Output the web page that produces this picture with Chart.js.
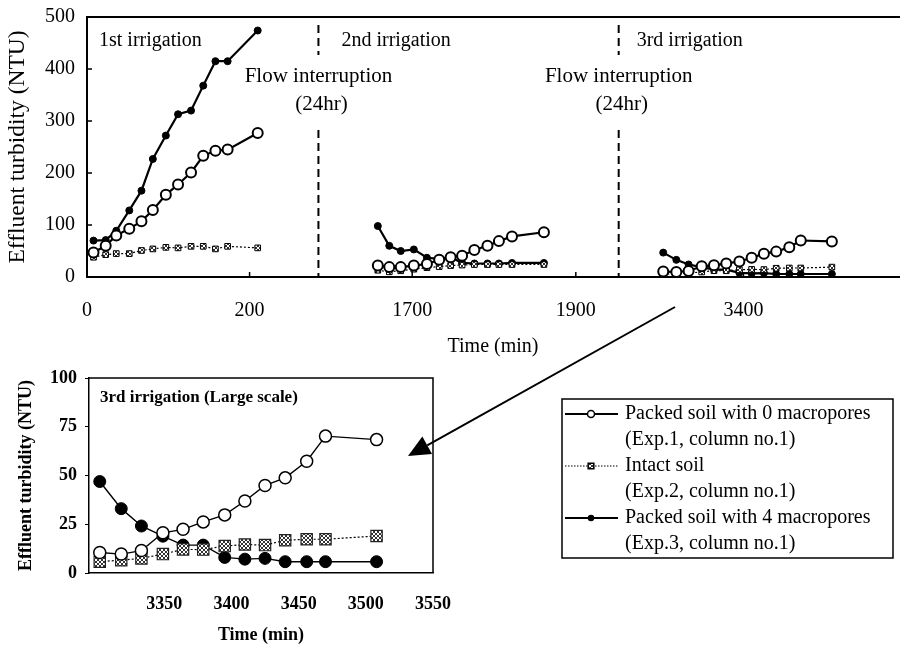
<!DOCTYPE html>
<html>
<head>
<meta charset="utf-8">
<script src="https://cdn.jsdelivr.net/npm/chart.js@4.4.1/dist/chart.umd.min.js"></script>
<style>
  html, body { margin: 0; padding: 0; background: #fff; overflow: hidden; }
  #wrap { position: relative; width: 901px; height: 646px; overflow: hidden; }
  #topChart { position: absolute; left: 0; top: 0; }
  #bottomChart { position: absolute; left: 0; top: 290px; }
</style>
</head>
<body>
<div id="wrap">
  <canvas id="topChart" width="906" height="360"></canvas>
  <canvas id="bottomChart" width="901" height="356"></canvas>
</div>
<script>
// times (min) and effluent turbidity (NTU)
const irr1Time = [8, 23, 36, 52, 67, 81, 97, 112, 128, 143, 158, 173, 210];
const irr1Packed0 = [47, 60, 80, 93, 107, 129, 158, 178, 201, 233, 243, 245, 277];
const irr1Intact = [38, 43, 45, 45, 51, 54, 57, 56, 59, 59, 54, 59, 56];
const irr1Packed4 = [70, 71, 89, 128, 166, 227, 272, 313, 320, 368, 415, 415, 474];

const irr2Time = [1658, 1672, 1686, 1702, 1718, 1733, 1747, 1761, 1776, 1792, 1806, 1822, 1861];
const irr2Packed0 = [22, 19, 19, 22, 25, 33, 38, 41, 52, 60, 69, 78, 86];
const irr2Intact = [13, 10, 12, 15, 18, 20, 22, 23, 24, 24, 24, 24, 24];
const irr2Packed4 = [98, 60, 50, 53, 37, 35, 38, 27, 26, 26, 26, 27, 27];

const irr3Time = [3302, 3318, 3333, 3349, 3364, 3379, 3395, 3410, 3425, 3440, 3456, 3470, 3508];
const irr3Packed0 = [10.5, 9.7, 11.5, 20.6, 22.4, 26.2, 29.8, 36.9, 44.9, 48.8, 57.3, 70.2, 68.4];
const irr3Intact = [5.8, 6.6, 7.5, 9.7, 12.1, 12, 13.8, 14.6, 14.3, 16.8, 17.3, 17.3, 19];
const irr3Packed4 = [46.9, 33, 24.1, 18.9, 14.3, 14.3, 8.0, 7.1, 7.5, 5.8, 5.8, 5.8, 5.8];

const topYTicks = [0, 100, 200, 300, 400, 500];
const seg1Ticks = [0, 200];
const seg2Ticks = [1700, 1900];
const seg3Ticks = [3400];
const zoomXTicks = [3350, 3400, 3450, 3500, 3550];
const zoomYTicks = [0, 25, 50, 75, 100];

const irrigationLabels = ["1st irrigation", "2nd irrigation", "3rd irrigation"];
const legendLines = [
    ["Packed soil with 0 macropores", "(Exp.1, column no.1)"],
    ["Intact soil", "(Exp.2, column no.1)"],
    ["Packed soil with 4 macropores", "(Exp.3, column no.1)"]
];

const SERIF = '"Liberation Serif", "Times New Roman", serif';

function hatch() {
    const c = document.createElement("canvas");
    c.width = 4; c.height = 4;
    const g = c.getContext("2d");
    g.fillStyle = "#fff";
    g.fillRect(0, 0, 4, 4);
    g.fillStyle = "#333";
    for (let i = 0; i < 4; i++) {
        g.fillRect(i, i, 1, 1);
        g.fillRect(3 - i, i, 1, 1);
    }
    return g.createPattern(c, "repeat");
}
const hatchFill = hatch();

function pts(xs, ys) {
    return xs.map((x, i) => ({ x: x, y: ys[i] }));
}

function styleTop(kind) {
    if (kind === "open") {
        return { borderColor: "#000", borderWidth: 2.2, pointStyle: "circle", pointRadius: 5,
            pointBorderWidth: 2, pointBackgroundColor: "#fff", pointBorderColor: "#000" };
    }
    if (kind === "intact") {
        return { borderColor: "#000", borderWidth: 1.2, borderDash: [2, 2], pointStyle: "rect", pointRadius: 4,
            pointBorderWidth: 1, pointBackgroundColor: hatchFill, pointBorderColor: "#000" };
    }
    return { borderColor: "#000", borderWidth: 2.2, pointStyle: "circle", pointRadius: 3.5,
        pointBorderWidth: 1, pointBackgroundColor: "#000", pointBorderColor: "#000" };
}

function styleZoom(kind) {
    if (kind === "open") {
        return { borderColor: "#000", borderWidth: 1.4, pointStyle: "circle", pointRadius: 6,
            pointBorderWidth: 1.5, pointBackgroundColor: "#fff", pointBorderColor: "#000" };
    }
    if (kind === "intact") {
        return { borderColor: "#000", borderWidth: 1.2, borderDash: [2, 2], pointStyle: "rect", pointRadius: 8,
            pointBorderWidth: 1.2, pointBackgroundColor: hatchFill, pointBorderColor: "#222" };
    }
    return { borderColor: "#000", borderWidth: 1.4, pointStyle: "circle", pointRadius: 6,
        pointBorderWidth: 1, pointBackgroundColor: "#000", pointBorderColor: "#000" };
}

function segDatasets(xs, p0, intact, p4, axis) {
    return [
        Object.assign({ label: legendLines[0][0], data: pts(xs, p0), xAxisID: axis }, styleTop("open")),
        Object.assign({ label: legendLines[1][0], data: pts(xs, intact), xAxisID: axis }, styleTop("intact")),
        Object.assign({ label: legendLines[2][0], data: pts(xs, p4), xAxisID: axis }, styleTop("filled"))
    ];
}

const plainNum = v => String(v);

function xSeg(min, max, weight, ticks) {
    return {
        type: "linear", position: "bottom", stack: "time", stackWeight: weight,
        min: min, max: max,
        afterBuildTicks: s => { s.ticks = ticks.map(v => ({ value: v })); },
        afterFit: s => { s.height = 83; s.paddingLeft = 0; s.paddingRight = 0; },
        grid: { display: false, drawTicks: false },
        border: { display: true, color: "#000", width: 2 },
        ticks: { autoSkip: false, maxRotation: 0, color: "#000", padding: 22, callback: plainNum,
            font: { family: SERIF, size: 20 } }
    };
}

function text(ctx, str, x, y, font, align) {
    ctx.font = font;
    ctx.textAlign = align || "left";
    ctx.textBaseline = "middle";
    ctx.fillStyle = "#000";
    ctx.fillText(str, x, y);
}

const topDecor = {
    id: "topDecor",
    afterDraw(chart) {
        const ctx = chart.ctx;
        const a = chart.chartArea;
        const s1 = chart.scales.x1, s2 = chart.scales.x2, s3 = chart.scales.x3, y = chart.scales.y;
        ctx.save();
        ctx.strokeStyle = "#000";
        ctx.lineWidth = 2;
        ctx.beginPath();
        ctx.moveTo(a.left - 1, a.top);
        ctx.lineTo(a.right + 1, a.top);
        ctx.stroke();

        // inward tick marks
        ctx.lineWidth = 1.5;
        ctx.beginPath();
        topYTicks.slice(1, -1).forEach(v => {
            const py = y.getPixelForValue(v);
            ctx.moveTo(a.left, py); ctx.lineTo(a.left + 5, py);
        });
        [[s1, seg1Ticks], [s2, seg2Ticks], [s3, seg3Ticks]].forEach(([s, t]) => {
            t.forEach(v => {
                const px = s.getPixelForValue(v);
                if (px > a.left + 2) { ctx.moveTo(px, a.bottom); ctx.lineTo(px, a.bottom - 5); }
            });
        });
        ctx.stroke();

        // flow interruption dashed lines
        ctx.lineWidth = 2;
        ctx.setLineDash([8, 5]);
        [s2.left, s3.left].forEach(x => {
            ctx.beginPath();
            ctx.moveTo(x, a.top + 8); ctx.lineTo(x, a.top + 38);
            ctx.moveTo(x, a.top + 113); ctx.lineTo(x, a.bottom);
            ctx.stroke();
            text(ctx, "Flow interruption", x, 76, "21px " + SERIF, "center");
            text(ctx, "(24hr)", x + 3, 104, "21px " + SERIF, "center");
        });
        ctx.setLineDash([]);

        text(ctx, irrigationLabels[0], s1.left + 12, a.top + 24, "20px " + SERIF);
        text(ctx, irrigationLabels[1], s2.left + 23, a.top + 24, "20px " + SERIF);
        text(ctx, irrigationLabels[2], s3.left + 18, a.top + 24, "20px " + SERIF);

        text(ctx, "Time (min)", (a.left + a.right) / 2, 347, "20px " + SERIF, "center");
        ctx.restore();
    }
};

new Chart(document.getElementById("topChart"), {
    type: "line",
    data: {
        datasets: [
            ...segDatasets(irr1Time, irr1Packed0, irr1Intact, irr1Packed4, "x1"),
            ...segDatasets(irr2Time, irr2Packed0, irr2Intact, irr2Packed4, "x2"),
            ...segDatasets(irr3Time, irr3Packed0, irr3Intact, irr3Packed4, "x3")
        ]
    },
    options: {
        responsive: false,
        animation: false,
        devicePixelRatio: 1,
        layout: { padding: { top: 17, right: 0, left: 0, bottom: 0 } },
        plugins: { legend: { display: false }, tooltip: { enabled: false } },
        scales: {
            x1: xSeg(0, 284.7, 232, seg1Ticks),
            x2: xSeg(1585.4, 1952.4, 301, seg2Ticks),
            x3: xSeg(3247.6, 3590, 281, seg3Ticks),
            y: {
                min: 0, max: 500,
                afterBuildTicks: s => { s.ticks = topYTicks.map(v => ({ value: v })); },
                afterFit: s => { s.width = 87; s.paddingTop = 0; s.paddingBottom = 0; },
                grid: { display: false, drawTicks: false },
                border: { display: true, color: "#000", width: 2 },
                ticks: { color: "#000", padding: 12, font: { family: SERIF, size: 20 } },
                title: { display: true, text: "Effluent turbidity (NTU)", color: "#000",
                    padding: { top: 4, bottom: 0 }, font: { family: SERIF, size: 23.5 } }
            }
        }
    },
    plugins: [topDecor]
});

const bottomDecor = {
    id: "bottomDecor",
    afterDraw(chart) {
        const ctx = chart.ctx;
        const a = chart.chartArea;
        ctx.save();
        ctx.strokeStyle = "#000";
        ctx.lineWidth = 1.5;
        ctx.beginPath();
        ctx.moveTo(a.left, a.top); ctx.lineTo(a.right, a.top); ctx.lineTo(a.right, a.bottom);
        ctx.stroke();
        text(ctx, "3rd irrigation (Large scale)", a.left + 11, a.top + 20, "bold 17px " + SERIF);

        // legend box
        const lx = 562, ly = 109, lw = 331, lh = 159;
        ctx.lineWidth = 1.5;
        ctx.strokeRect(lx, ly, lw, lh);
        const kinds = ["open", "intact", "filled"];
        kinds.forEach((k, i) => {
            const row = ly + 15 + i * 52;
            const st = styleZoom(k);
            ctx.save();
            ctx.lineWidth = k === "intact" ? 1 : 2;
            ctx.setLineDash(k === "intact" ? [1.5, 1.5] : []);
            ctx.beginPath();
            ctx.moveTo(lx + 3, row); ctx.lineTo(lx + 56, row);
            ctx.stroke();
            ctx.restore();
            ctx.fillStyle = st.pointBackgroundColor;
            ctx.strokeStyle = "#000";
            Chart.helpers.drawPoint(ctx, {
                pointStyle: st.pointStyle,
                radius: k === "open" ? 3.5 : (k === "intact" ? 4 : 2.5),
                borderWidth: k === "open" ? 1.5 : 1,
                rotation: 0
            }, lx + 29, row);
            text(ctx, legendLines[i][0], lx + 63, row, "20px " + SERIF);
            text(ctx, legendLines[i][1], lx + 63, row + 26, "20px " + SERIF);
        });

        // arrow from the 3rd irrigation to the enlarged plot
        const x0 = 675, y0 = 17, x1 = 408, y1 = 166;
        const len = Math.hypot(x1 - x0, y1 - y0);
        const ux = (x1 - x0) / len, uy = (y1 - y0) / len;
        const hl = 22, hw = 10;
        ctx.strokeStyle = "#000";
        ctx.lineWidth = 2;
        ctx.beginPath();
        ctx.moveTo(x0, y0);
        ctx.lineTo(x1 - ux * hl, y1 - uy * hl);
        ctx.stroke();
        ctx.fillStyle = "#000";
        ctx.beginPath();
        ctx.moveTo(x1, y1);
        ctx.lineTo(x1 - ux * hl - uy * hw, y1 - uy * hl + ux * hw);
        ctx.lineTo(x1 - ux * hl + uy * hw, y1 - uy * hl - ux * hw);
        ctx.closePath();
        ctx.fill();
        ctx.restore();
    }
};

new Chart(document.getElementById("bottomChart"), {
    type: "line",
    data: {
        datasets: [
            Object.assign({ label: legendLines[0][0], data: pts(irr3Time, irr3Packed0) }, styleZoom("open")),
            Object.assign({ label: legendLines[1][0], data: pts(irr3Time, irr3Intact) }, styleZoom("intact")),
            Object.assign({ label: legendLines[2][0], data: pts(irr3Time, irr3Packed4) }, styleZoom("filled"))
        ]
    },
    options: {
        responsive: false,
        animation: false,
        devicePixelRatio: 1,
        layout: { padding: { top: 88, right: 468, left: 0, bottom: 0 } },
        plugins: { legend: { display: false }, tooltip: { enabled: false } },
        scales: {
            x: {
                type: "linear", min: 3294, max: 3550,
                afterBuildTicks: s => { s.ticks = zoomXTicks.map(v => ({ value: v })); },
                afterFit: s => { s.height = 73; },
                grid: { display: false, drawTicks: false },
                border: { display: true, color: "#000", width: 1.5 },
                ticks: { autoSkip: false, maxRotation: 0, color: "#000", padding: 21, callback: plainNum,
                    font: { family: SERIF, size: 18, weight: "bold" } },
                title: { display: true, text: "Time (min)", color: "#000", padding: { top: 0, bottom: 0 },
                    font: { family: SERIF, size: 18, weight: "bold" } }
            },
            y: {
                min: 0, max: 100,
                afterBuildTicks: s => { s.ticks = zoomYTicks.map(v => ({ value: v })); },
                afterFit: s => { s.width = 89; },
                grid: { display: true, drawOnChartArea: false, drawTicks: true, tickLength: 4, color: "#000" },
                border: { display: true, color: "#000", width: 1.5 },
                ticks: { color: "#000", padding: 8, font: { family: SERIF, size: 18, weight: "bold" } },
                title: { display: true, text: "Effluent turbidity (NTU)", color: "#000",
                    padding: { top: 16, bottom: 0 }, font: { family: SERIF, size: 18, weight: "bold" } }
            }
        }
    },
    plugins: [bottomDecor]
});
</script>
</body>
</html>
